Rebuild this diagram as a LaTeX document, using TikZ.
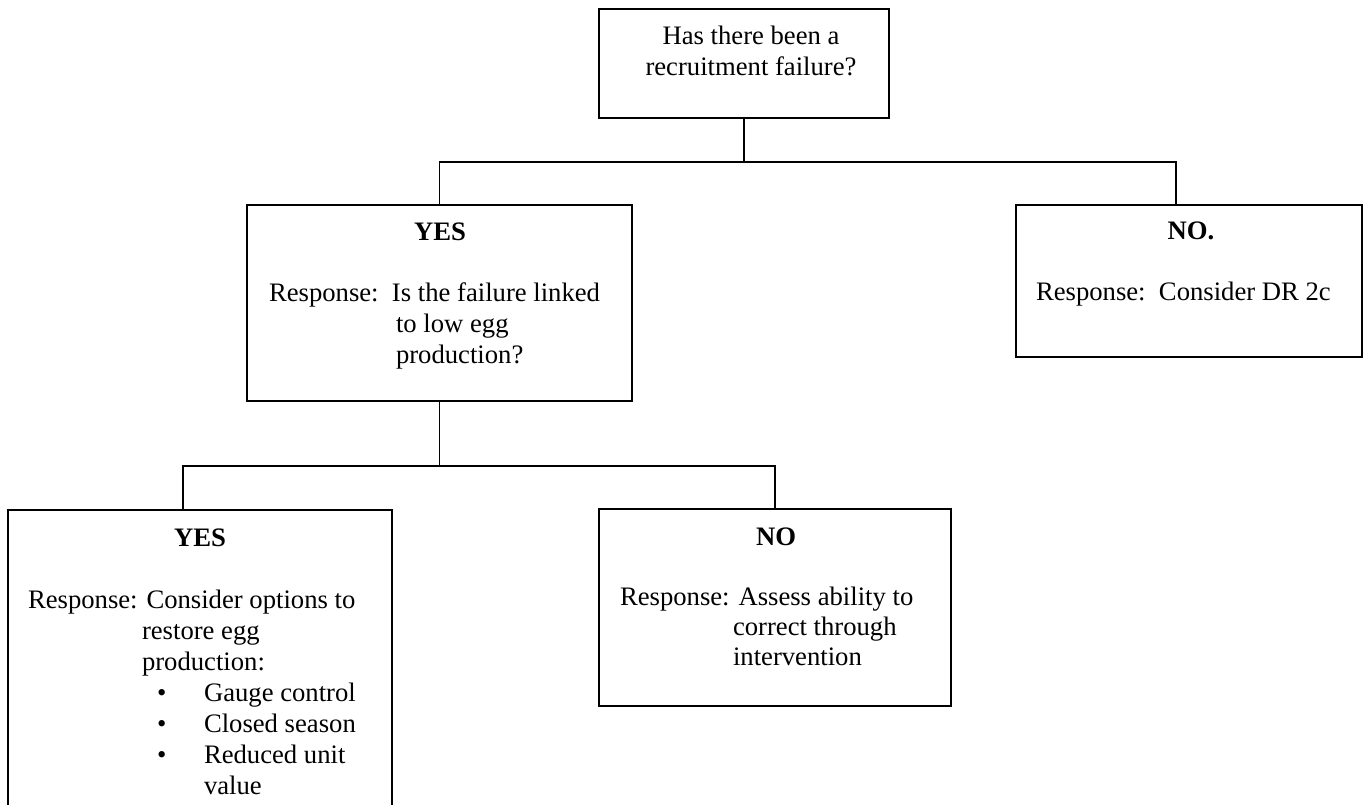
\documentclass[tikz,border=0pt]{standalone}
\usepackage{fontspec}
\setmainfont{Liberation Serif}
\usetikzlibrary{fit}
\begin{document}
\begin{tikzpicture}[x=0.75pt,y=-0.75pt,
  box/.style={draw, line width=1.2pt, inner sep=0pt, outer sep=0pt, rectangle},
  txt/.style={inner sep=0pt, outer sep=0pt, font=\fontsize{20}{23}\selectfont},
  tl/.style={txt, anchor=base west},
  tc/.style={txt, anchor=base},
  hd/.style={txt, anchor=base, font=\fontsize{20}{23}\selectfont\bfseries},
  conn/.style={line width=1.2pt}]
\useasboundingbox (0,0) rectangle (1364,805);
\clip (0,0) rectangle (1364,805);
% boxes
\node[box, fit={(599,9) (889,118)}] (top) {};
\node[box, fit={(247,205) (632,401)}] (yes1) {};
\node[box, fit={(1016,205) (1362,357)}] (no1) {};
\node[box, fit={(8,510) (392,850)}] (yes2) {};
\node[box, fit={(599,509) (951,706)}] (no2) {};
% junctions
\coordinate (j1) at (744,162);
\coordinate (n1top) at (1176,205);
\coordinate (j2) at (440,466);
\coordinate (y2top) at (183,510);
% connectors
\draw[conn] (top.south) -- (top.south |- j1);
\draw[conn] (yes1.north) -- (yes1.north |- j1) -- (j1 -| n1top) -- (n1top);
\draw[conn] (yes1.south) -- (yes1.south |- j2);
\draw[conn] (y2top) -- (y2top |- j2) -- (j2 -| no2.north) -- (no2.north);
% top text
\node[tc] (t1) at (751,45) {Has there been a};
\node[tc] (t2) at (751,76) {recruitment failure?};
% middle YES
\node[hd] (y1h) at (440,241) {YES};
\node[tl] (y1a) at (269,302) {Response:\ \ Is the failure linked};
\node[tl] (y1b) at (396,333) {to low egg};
\node[tl] (y1c) at (396,364) {production?};
% NO.
\node[hd] (n1h) at (1191,240) {NO.};
\node[tl] (n1a) at (1036,301) {Response:\ \ Consider DR 2c};
% bottom YES
\node[hd] (y2h) at (200,546) {YES};
\node[tl] (y2a) at (28,608) {Response: Consider options to};
\node[tl] (y2b) at (142,639) {restore egg};
\node[tl] (y2c) at (142,670) {production:};
\node[tl] (b1) at (157,701) {•};
\node[tl] (b2) at (157,732) {•};
\node[tl] (b3) at (157,763) {•};
\node[tl] (y2d) at (204,701) {Gauge control};
\node[tl] (y2e) at (204,732) {Closed season};
\node[tl] (y2f) at (204,763) {Reduced unit};
\node[tl] (y2g) at (204,794) {value};
% bottom NO
\node[hd] (n2h) at (776,545) {NO};
\node[tl] (n2a) at (620,605) {Response: Assess ability to};
\node[tl] (n2b) at (733,635) {correct through};
\node[tl] (n2c) at (733,665) {intervention};
\end{tikzpicture}
\end{document}
